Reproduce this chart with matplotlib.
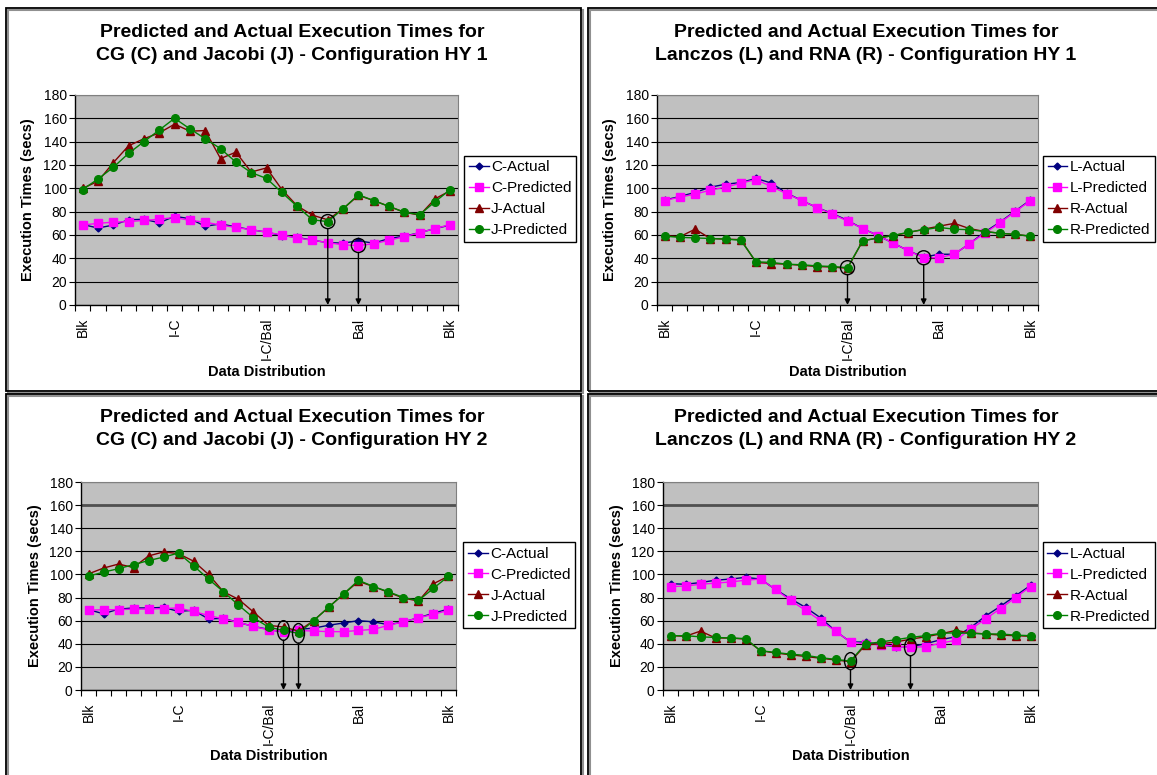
import matplotlib
matplotlib.use('Agg')
import matplotlib.pyplot as plt
from matplotlib.patches import Ellipse, Rectangle

plt.rcParams['font.family'] = ['Liberation Sans', 'DejaVu Sans']

# 25 data distributions, only every sixth one is named on the axis
distributions = ['Blk', '', '', '', '', '', 'I-C', '', '', '', '', '',
                 'I-C/Bal', '', '', '', '', '', 'Bal', '', '', '', '', '', 'Blk']

# CG / Jacobi, configuration HY 1
c_act_1 = [69, 66, 68.5, 73, 73.5, 70.5, 76, 74, 67.5, 69.5, 67, 64.5, 62.5, 59.5, 58, 55.5, 53.5, 53, 55, 53, 57, 59, 62, 65.5, 68.5]
c_pred_1 = [68.5, 70, 71, 71.5, 72.5, 73.5, 75, 72.5, 71, 68.5, 66.5, 64.5, 62.5, 60, 57.5, 55.5, 53.5, 51.5, 51, 52.5, 55.5, 58.5, 62, 65.5, 69]
j_act_1 = [100, 106, 122, 136.5, 142.5, 147.5, 155, 149, 149.5, 125.5, 131, 114, 117.5, 99, 85, 77, 73, 82.5, 94, 89.5, 84.5, 79.5, 77, 91, 98]
j_pred_1 = [99, 108, 118, 130, 140, 150, 160, 151, 142.5, 134, 122.5, 113.5, 108.5, 96.5, 84.5, 73, 71.5, 82.5, 94.5, 89.5, 84.5, 79.5, 77.5, 88.5, 99]

# Lanczos / RNA, configuration HY 1
l_act_1 = [90, 93, 96.5, 101, 103.5, 105, 108.5, 104.5, 96, 89.5, 83.5, 78.5, 72.5, 65.5, 59.5, 53, 46.5, 41, 43.5, 43.5, 52.5, 62.5, 71, 80.5, 90]
l_pred_1 = [89.5, 92.5, 95, 98.5, 101, 104.5, 107.5, 101.5, 95.5, 89.5, 83.5, 78, 72, 65.5, 59.5, 53, 46.5, 40.5, 40.5, 43.5, 52.5, 61.5, 70.5, 80, 89.5]
r_act_1 = [59.5, 58.5, 65, 57, 56.5, 56, 36.5, 35.5, 35, 34, 33, 32.5, 31.5, 55, 57.5, 59.5, 62, 65, 67.5, 70, 65.5, 63, 61.5, 60.5, 59]
r_pred_1 = [59, 58, 57.5, 57, 56.5, 55.5, 37, 36.5, 35, 34.5, 33.5, 33, 32, 55, 57.5, 59.5, 62.5, 64.5, 66.5, 65, 64.5, 63, 61.5, 60.5, 59]

# CG / Jacobi, configuration HY 2
c_act_2 = [69.5, 66, 70, 71, 71, 71.5, 68, 69, 61.5, 62, 58.5, 55, 52.5, 50, 52.5, 53.5, 56, 58, 60, 59, 56.5, 59, 62.5, 66.5, 70]
c_pred_2 = [69, 69.5, 69.5, 70, 70, 70.5, 71, 68, 64.5, 61.5, 58.5, 55, 52, 50.5, 51.5, 51, 50.5, 50.5, 51.5, 52.5, 56, 59, 62.5, 65.5, 69]
j_act_2 = [100.5, 105.5, 109, 106, 116, 119.5, 118, 111.5, 100, 85, 78.5, 67.5, 56, 54.5, 51, 60, 71.5, 83, 94, 89.5, 84.5, 79.5, 77, 92, 98.5]
j_pred_2 = [98.5, 102, 105, 108.5, 112, 115, 118.5, 107.5, 96, 85, 73.5, 62.5, 54.5, 51.5, 49, 60, 71.5, 83, 95, 89.5, 85, 80, 77.5, 88, 98.5]

# Lanczos / RNA, configuration HY 2
l_act_2 = [92, 91.5, 93, 95, 96, 97.5, 96, 87, 79, 71.5, 62.5, 51, 41.5, 41.5, 39, 37.5, 37.5, 40, 43.5, 46, 54, 64, 72.5, 81.5, 90.5]
l_pred_2 = [89.5, 90, 91.5, 92.5, 93.5, 95, 96, 87, 77.5, 69, 60, 51, 41.5, 40, 39, 38, 37, 37.5, 40.5, 43, 52.5, 61.5, 70.5, 80, 89.5]
r_act_2 = [47, 46.5, 51, 45, 45, 44, 34, 32, 30.5, 29, 27.5, 26, 24.5, 39, 40, 41.5, 44, 46, 48.5, 51.5, 49.5, 48.5, 47.5, 47, 46.5]
r_pred_2 = [47, 47, 46, 45.5, 45, 44.5, 34, 32.5, 31, 30, 28, 26.5, 25, 40, 41.5, 43.5, 45.5, 47, 49, 49.5, 49, 48.5, 48.5, 47.5, 47]

# series styles: actual/predicted of first app, actual/predicted of second app
styles = [
    dict(color='#000080', marker='D', markersize=3.5),
    dict(color='#FF00FF', marker='s', markersize=5.5),
    dict(color='#800000', marker='^', markersize=5.5),
    dict(color='#008000', marker='o', markersize=5.5),
]

W, H = 1157, 775
fig = plt.figure(figsize=(W / 100, H / 100), dpi=100)


def px_box(left, top, right, bottom):
    return [left / W, 1 - bottom / H, (right - left) / W, (bottom - top) / H]


# framed chart panel with a small drop shadow
def panel_frame(left, top, right, bottom):
    x, y, w, h = px_box(left, top, right, bottom)
    fig.patches.append(Rectangle((x + 2 / W, y - 2 / H), w, h, transform=fig.transFigure,
                                 facecolor='none', edgecolor='#909090', lw=1.5, zorder=-2))
    fig.patches.append(Rectangle((x, y), w, h, transform=fig.transFigure,
                                 facecolor='none', edgecolor='black', lw=1.3, zorder=-1))


def plot_panel(box, title, title_xy, series, names, marks, mark_size, legend_x, dark160=False):
    ax = fig.add_axes(px_box(*box))
    ax.set_facecolor('#C0C0C0')
    x = list(range(len(distributions)))
    for values, name, st in zip(series, names, styles):
        ax.plot(x, values, lw=1, label=name, zorder=3, **st)

    # highlighted points with arrows down to the axis
    for idx, s in marks:
        yc = series[s][idx]
        ax.add_patch(Ellipse((idx, yc), mark_size[0], mark_size[1], facecolor='none',
                             edgecolor='black', lw=1, zorder=4))
        ax.annotate('', xy=(idx, 0), xytext=(idx, yc - mark_size[1] / 2),
                    arrowprops=dict(arrowstyle='-|>', color='black', lw=1, mutation_scale=8,
                                    shrinkA=0, shrinkB=0), zorder=4)

    ax.set_xlim(-0.5, len(distributions) - 0.5)
    ax.set_ylim(0, 180)
    ax.set_yticks(range(0, 181, 20))
    ax.yaxis.grid(True, color='black', lw=0.8)
    if dark160:
        ax.axhline(160, color='#505050', lw=2, zorder=1)
    ax.set_axisbelow(True)
    ax.tick_params(axis='y', direction='out', length=4, width=0.8, labelsize=10, pad=2)

    label_pos = [i for i, d in enumerate(distributions) if d]
    ax.set_xticks(label_pos)
    ax.set_xticklabels([distributions[i] for i in label_pos], rotation=90, fontsize=10)
    ax.set_xticks([i - 0.5 for i in range(len(distributions) + 1)], minor=True)
    ax.tick_params(axis='x', which='major', length=0, pad=9)
    ax.tick_params(axis='x', which='minor', direction='out', length=4, width=0.8)

    for side in ['top', 'right']:
        ax.spines[side].set_color('#808080')
    for side in ['left', 'bottom']:
        ax.spines[side].set_color('black')
        ax.spines[side].set_linewidth(1)

    ax.set_ylabel('Execution Times (secs)', fontsize=10.5, fontweight='bold')
    ax.yaxis.set_label_coords(-0.105, 0.5)
    ax.set_xlabel('Data Distribution', fontsize=10.5, fontweight='bold')
    ax.xaxis.set_label_coords(0.5, -0.285)

    leg = ax.legend(loc='upper left', bbox_to_anchor=(legend_x, 0.71), borderaxespad=0,
                    fancybox=False, edgecolor='black', framealpha=1, fontsize=11,
                    handlelength=1.3, handletextpad=0.15, labelspacing=0.45,
                    borderpad=0.3)
    leg.get_frame().set_linewidth(1)

    fig.text(title_xy[0] / W, 1 - title_xy[1] / H, title, ha='center', va='center',
             fontsize=14, fontweight='bold', linespacing=1.4)


panel_frame(6, 8, 581, 391)
panel_frame(588, 8, 1165, 391)
panel_frame(6, 394, 581, 783)
panel_frame(588, 394, 1165, 783)

plot_panel((75, 95, 458, 305),
           'Predicted and Actual Execution Times for\nCG (C) and Jacobi (J) - Configuration HY 1',
           (292, 44), [c_act_1, c_pred_1, j_act_1, j_pred_1],
           ['C-Actual', 'C-Predicted', 'J-Actual', 'J-Predicted'],
           [(16, 3), (18, 1)], (0.92, 12), 1.016)

plot_panel((657, 95, 1038, 305),
           'Predicted and Actual Execution Times for\nLanczos (L) and RNA (R) - Configuration HY 1',
           (866, 44), [l_act_1, l_pred_1, r_act_1, r_pred_1],
           ['L-Actual', 'L-Predicted', 'R-Actual', 'R-Predicted'],
           [(12, 3), (17, 1)], (0.92, 12), 1.013)

plot_panel((81, 482, 456, 690),
           'Predicted and Actual Execution Times for\nCG (C) and Jacobi (J) - Configuration HY 2',
           (292, 429), [c_act_2, c_pred_2, j_act_2, j_pred_2],
           ['C-Actual', 'C-Predicted', 'J-Actual', 'J-Predicted'],
           [(13, 3), (14, 3)], (0.8, 17), 1.02, dark160=True)

plot_panel((663, 482, 1038, 690),
           'Predicted and Actual Execution Times for\nLanczos (L) and RNA (R) - Configuration HY 2',
           (866, 429), [l_act_2, l_pred_2, r_act_2, r_pred_2],
           ['L-Actual', 'L-Predicted', 'R-Actual', 'R-Predicted'],
           [(12, 3), (16, 1)], (0.8, 14.7), 1.013, dark160=True)

fig.savefig('out.png', dpi=100)
